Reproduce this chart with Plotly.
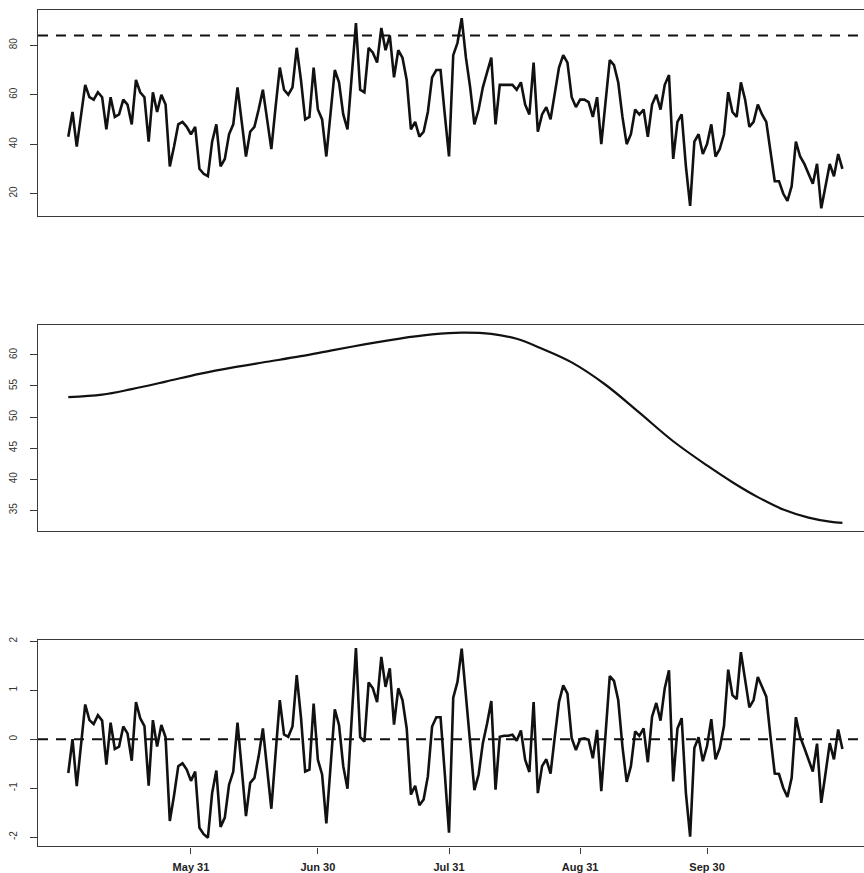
import pandas as pd
import plotly.graph_objects as go

# Daily observations, 2 May - 1 Nov
start_date = "2001-05-02"
observed = [
    43, 53, 39, 51, 64, 59, 58, 61, 59, 46, 59, 51, 52, 58, 56, 48, 66, 61, 59, 41,
    61, 53, 60, 56, 31, 39, 48, 49, 47, 44, 47, 30, 28, 27, 41, 48, 31, 34, 44, 48,
    63, 49, 35, 45, 47, 54, 62, 50, 38, 55, 71, 62, 60, 63, 79, 66, 50, 51, 71, 54,
    50, 35, 52, 70, 65, 52, 46, 67, 89, 62, 61, 79, 77, 73, 87, 78, 84, 67, 78, 75,
    66, 46, 49, 43, 45, 53, 67, 70, 70, 52, 35, 76, 81, 91, 75, 63, 48, 54, 63, 69,
    75, 48, 64, 64, 64, 64, 62, 65, 56, 52, 73, 45, 52, 55, 50, 60, 71, 76, 73, 59,
    55, 58, 58, 57, 51, 59, 40, 57, 74, 72, 65, 51, 40, 44, 54, 52, 54, 43, 56, 60,
    54, 64, 68, 34, 49, 52, 31, 15, 41, 44, 36, 40, 48, 35, 38, 44, 61, 53, 51, 65,
    58, 47, 49, 56, 52, 49, 37, 25, 25, 20, 17, 23, 41, 35, 32, 28, 24, 32, 14, 23,
    32, 27, 36, 30,
]
threshold = 84

# Smooth seasonal trend: day offsets and fitted level
trend_day = [0, 8, 15, 23, 31, 39, 47, 55, 62, 70, 78, 86, 93, 100, 106, 112, 119,
             127, 135, 143, 151, 157, 163, 169, 175, 180, 183]
trend_value = [53.2, 53.6, 54.5, 55.7, 56.95, 58.0, 58.9, 59.8, 60.7, 61.7, 62.6, 63.3,
               63.6, 63.4, 62.6, 61.0, 58.8, 55.2, 50.7, 46.1, 42.2, 39.5, 37.1, 35.1,
               33.8, 33.15, 32.95]

# Standardised residuals around the trend
residual = [
    -0.69, 0.0, -0.96, -0.15, 0.71, 0.39, 0.31, 0.49, 0.38, -0.52, 0.34, -0.2, -0.15,
    0.26, 0.12, -0.44, 0.76, 0.43, 0.27, -0.95, 0.39, -0.15, 0.29, 0.04, -1.67, -1.15,
    -0.55, -0.49, -0.62, -0.85, -0.66, -1.81, -1.94, -2.01, -1.1, -0.64, -1.79, -1.6,
    -0.93, -0.66, 0.34, -0.6, -1.57, -0.89, -0.79, -0.35, 0.22, -0.6, -1.42, -0.3, 0.8,
    0.1, 0.05, 0.26, 1.31, 0.45, -0.66, -0.62, 0.73, -0.42, -0.72, -1.72, -0.55, 0.61,
    0.29, -0.55, -1.01, 0.42, 1.86, 0.04, -0.05, 1.16, 1.04, 0.76, 1.68, 1.07, 1.45,
    0.3, 1.04, 0.8, 0.22, -1.13, -0.95, -1.35, -1.23, -0.76, 0.26, 0.45, 0.45, -0.7,
    -1.91, 0.85, 1.17, 1.85, 0.88, -0.08, -1.04, -0.72, -0.08, 0.32, 0.78, -1.03, 0.05,
    0.07, 0.07, 0.09, -0.03, 0.18, -0.42, -0.67, 0.76, -1.1, -0.55, -0.41, -0.7, 0.05,
    0.76, 1.1, 0.93, 0.02, -0.22, 0.0, 0.02, -0.01, -0.39, 0.19, -1.06, 0.1, 1.29, 1.19,
    0.8, -0.15, -0.87, -0.55, 0.16, 0.07, 0.22, -0.47, 0.46, 0.74, 0.38, 1.04, 1.41,
    -0.86, 0.22, 0.43, -1.1, -1.99, -0.18, 0.04, -0.45, -0.14, 0.41, -0.41, -0.18, 0.27,
    1.42, 0.9, 0.82, 1.78, 1.24, 0.65, 0.8, 1.27, 1.07, 0.87, 0.05, -0.7, -0.71, -0.99,
    -1.18, -0.79, 0.45, 0.05, -0.18, -0.41, -0.66, -0.09, -1.3, -0.7, -0.08, -0.41, 0.2,
    -0.2,
]

tick_dates = ["2001-05-31", "2001-06-30", "2001-07-31", "2001-08-31", "2001-09-30"]
tick_labels = ["May 31", "Jun 30", "Jul 31", "Aug 31", "Sep 30"]

dates = pd.date_range(start_date, periods=len(observed), freq="D")
trend_dates = [dates[d] for d in trend_day]

x_range = ["2001-04-24 20:10", "2001-11-06 02:25"]

FONT = "Liberation Sans, Arial, Helvetica, sans-serif"
INK = "#111111"
FRAME = "#3a3a3a"

fig = go.Figure()
fig.add_trace(go.Scatter(x=dates, y=observed, mode="lines",
                         line=dict(color=INK, width=2.6), xaxis="x", yaxis="y"))
fig.add_trace(go.Scatter(x=trend_dates, y=trend_value, mode="lines",
                         line=dict(color=INK, width=2.2, shape="spline", smoothing=1.0),
                         xaxis="x2", yaxis="y2"))
fig.add_trace(go.Scatter(x=dates, y=residual, mode="lines",
                         line=dict(color=INK, width=2.6), xaxis="x3", yaxis="y3"))

# Reference lines: threshold on the data, zero on the residuals
fig.add_shape(type="line", xref="x domain", yref="y", x0=0, x1=1, y0=threshold, y1=threshold,
              line=dict(color=INK, width=2, dash="10px,8px"))
fig.add_shape(type="line", xref="x3 domain", yref="y3", x0=0, x1=1, y0=0, y1=0,
              line=dict(color=INK, width=2, dash="10px,8px"))

x_dom = [38 / 864, 1.0]
H = 873


def ydom(top_px, bottom_px):
    return [1 - bottom_px / H, 1 - top_px / H]


common_x = dict(type="date", range=x_range, domain=x_dom, showline=True, linecolor=FRAME,
                linewidth=1.2, mirror=True, showgrid=False, zeroline=False)
common_y = dict(showline=True, linecolor=FRAME, linewidth=1.2, mirror=False, showgrid=False,
                zeroline=False, ticks="outside", ticklen=7, tickcolor=FRAME, tickwidth=1,
                tickangle=-90, ticklabelstandoff=9,
                tickfont=dict(family=FONT, size=10, color="#333333"))

fig.update_layout(
    width=864, height=873,
    margin=dict(l=0, r=0, t=0, b=0),
    paper_bgcolor="white", plot_bgcolor="white",
    showlegend=False,
    xaxis=dict(common_x, anchor="y", showticklabels=False, ticks=""),
    xaxis2=dict(common_x, anchor="y2", showticklabels=False, ticks=""),
    xaxis3=dict(common_x, anchor="y3", ticks="outside", ticklen=6, tickcolor=FRAME,
                tickvals=tick_dates, ticktext=tick_labels, ticklabelstandoff=4,
                tickfont=dict(family=FONT, size=11, color="#222222", weight="bold")),
    yaxis=dict(common_y, anchor="x", domain=ydom(6, 213), range=[11.0, 94.3],
               tickvals=[20, 40, 60, 80], ticktext=["20", "40", "60", "80"]),
    yaxis2=dict(common_y, anchor="x2", domain=ydom(323.3, 530), range=[31.65, 64.75],
                tickvals=[35, 40, 45, 50, 55, 60], ticktext=["35", "40", "45", "50", "55", "60"]),
    yaxis3=dict(common_y, anchor="x3", domain=ydom(640, 847.3), range=[-2.19, 2.02],
                tickvals=[-2, -1, 0, 1, 2], ticktext=["-2", "-1", "0", "1", "2"]),
)

fig.write_html("out.html", config={"displayModeBar": False})
